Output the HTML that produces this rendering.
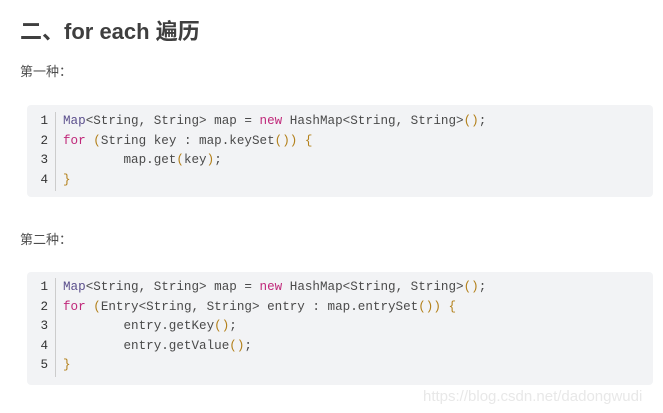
<!DOCTYPE html>
<html><head><meta charset="utf-8"><style>
body{margin:0;width:663px;height:413px;background:#fff;position:relative;overflow:hidden;font-family:"Liberation Sans","Noto Sans CJK SC",sans-serif;}
.h{position:absolute;left:20px;top:17px;font-size:22px;font-weight:bold;color:#3f3f3f;line-height:30px;}
.p{position:absolute;left:20px;font-size:13px;color:#4d4d4d;line-height:18px;}
.blk{position:absolute;left:27px;width:626px;background:#f2f3f5;border-radius:4px;}
.ln{position:absolute;left:0;width:21px;text-align:right;font-family:"Liberation Mono",monospace;font-size:12.6px;color:#333;}
.div{position:absolute;left:28px;width:1px;background:#ccc;}
.cd{position:absolute;left:36px;font-family:"Liberation Mono",monospace;font-size:12.6px;color:#4a4a4a;white-space:pre;}
.row{height:19.5px;line-height:19.5px;}
.k{color:#c0287a}.t{color:#5b4f8c}.o{color:#b3801a}
.wm{position:absolute;left:423px;top:388px;font-size:15px;color:#e8e8e8;}
</style></head><body>
<div class="h">二、for each 遍历</div>
<div class="p" style="top:63px">第一种：</div>
<div class="blk" style="top:105px;height:92px">
 <div class="ln" style="top:7px"><div class="row">1</div><div class="row">2</div><div class="row">3</div><div class="row">4</div></div>
 <div class="div" style="top:7px;height:79px"></div>
 <div class="cd" style="top:7px"><div class="row"><span class="t">Map</span>&lt;String, String&gt; map = <span class="k">new</span> HashMap&lt;String, String&gt;<span class="o">()</span>;</div><div class="row"><span class="k">for</span> <span class="o">(</span>String key : map.keySet<span class="o">())</span> <span class="o">{</span></div><div class="row">        map.get<span class="o">(</span>key<span class="o">)</span>;</div><div class="row"><span class="o">}</span></div></div>
</div>
<div class="p" style="top:231px">第二种：</div>
<div class="blk" style="top:272px;height:113px">
 <div class="ln" style="top:6px"><div class="row">1</div><div class="row">2</div><div class="row">3</div><div class="row">4</div><div class="row">5</div></div>
 <div class="div" style="top:6px;height:99px"></div>
 <div class="cd" style="top:6px"><div class="row"><span class="t">Map</span>&lt;String, String&gt; map = <span class="k">new</span> HashMap&lt;String, String&gt;<span class="o">()</span>;</div><div class="row"><span class="k">for</span> <span class="o">(</span>Entry&lt;String, String&gt; entry : map.entrySet<span class="o">())</span> <span class="o">{</span></div><div class="row">        entry.getKey<span class="o">()</span>;</div><div class="row">        entry.getValue<span class="o">()</span>;</div><div class="row"><span class="o">}</span></div></div>
</div>
<div class="wm">https://blog.csdn.net/dadongwudi</div>
</body></html>
